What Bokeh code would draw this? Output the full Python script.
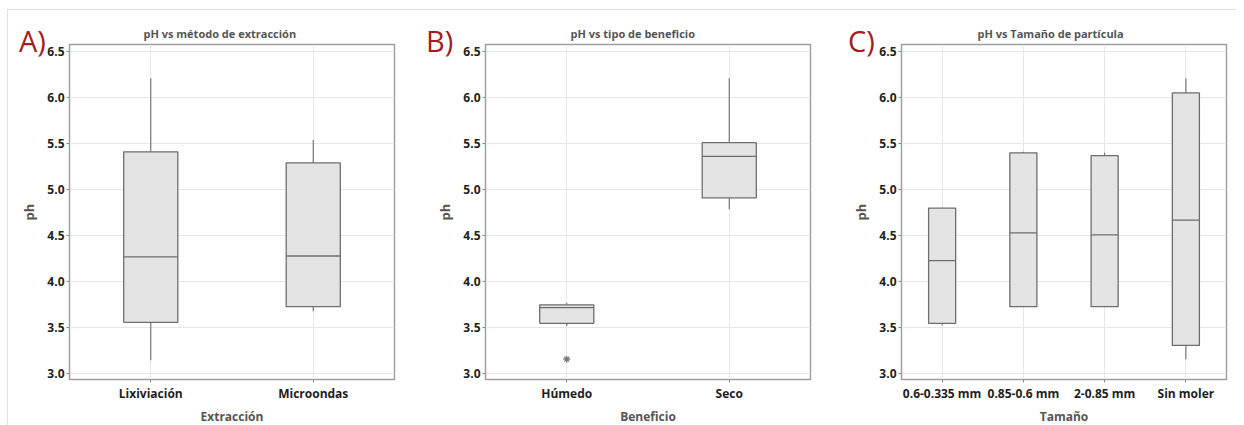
from bokeh.plotting import figure
from bokeh.layouts import row
from bokeh.models import Div, Title, FixedTicker, Range1d, CustomJSTickFormatter
from bokeh.transform import dodge
from bokeh.embed import file_html
from bokeh.resources import INLINE

# ---- data ----
A_cats = ["Lixiviación", "Microondas"]
A_low = [3.15, 3.68]
A_q1 = [3.56, 3.73]
A_med = [4.27, 4.28]
A_q3 = [5.41, 5.29]
A_high = [6.21, 5.54]

B_cats = ["Húmedo", "Seco"]
B_low = [3.52, 4.79]
B_q1 = [3.55, 4.91]
B_med = [3.72, 5.36]
B_q3 = [3.75, 5.51]
B_high = [3.77, 6.21]
B_out_cat = ["Húmedo"]
B_out_val = [3.16]

C_cats = ["0.6-0.335 mm", "0.85-0.6 mm", "2-0.85 mm", "Sin moler"]
C_low = [3.53, 3.73, 3.73, 3.16]
C_q1 = [3.55, 3.73, 3.73, 3.31]
C_med = [4.23, 4.53, 4.51, 4.67]
C_q3 = [4.80, 5.40, 5.37, 6.05]
C_high = [4.80, 5.41, 5.40, 6.21]

y_ticks = [3.0, 3.5, 4.0, 4.5, 5.0, 5.5, 6.0, 6.5]

FONT = "Open Sans"
BOX_FILL = "#e4e4e4"
BOX_LINE = "#6e6e6e"


def panel(title, title_off, xlabel, cats, low, q1, med, q3, high,
          left, right, out_cat=None, out_val=None):
    top, bottom = 34, 38
    y0, y1 = 2.94, 6.575
    p = figure(x_range=cats, y_range=Range1d(y0, y1),
               frame_width=325, frame_height=335,
               min_border_left=left, min_border_right=right,
               min_border_top=top, min_border_bottom=bottom,
               output_backend="svg", toolbar_location=None,
               background_fill_color="white", border_fill_color=None)
    p.title = Title(text=title, align="left", offset=title_off,
                    text_font=FONT, text_font_size="11px", text_font_style="bold",
                    text_color="#555555", standoff=8)
    p.outline_line_color = "#a0a0a0"
    p.outline_line_width = 1.5
    for ax in (p.xaxis[0], p.yaxis[0]):
        ax.axis_line_color = None
        ax.major_tick_line_color = "#888888"
        ax.major_tick_out = 3
        ax.major_tick_in = 0
        ax.minor_tick_line_color = None
        ax.major_label_standoff = 2
        ax.major_label_text_font = FONT
        ax.major_label_text_font_size = "12px"
        ax.major_label_text_color = "#1e1e1e"
        ax.major_label_text_font_style = "bold"
        ax.axis_label_text_font = FONT
        ax.axis_label_text_font_style = "bold"
        ax.axis_label_text_color = "#555555"
    p.xaxis.axis_label_text_font_size = "12px"
    p.yaxis.axis_label_text_font_size = "13px"
    p.yaxis.ticker = FixedTicker(ticks=y_ticks)
    p.yaxis.formatter = CustomJSTickFormatter(code="return tick.toFixed(1)")
    p.xaxis.axis_label = xlabel
    p.yaxis.axis_label = "ph"
    p.xaxis.axis_label_standoff = 3
    p.yaxis.axis_label_standoff = 6
    p.grid.grid_line_color = "#e6e6e6"
    p.grid.grid_line_width = 1

    src = dict(cat=cats, low=low, q1=q1, med=med, q3=q3, high=high)
    w = 0.333
    p.segment(x0="cat", x1="cat", y0="low", y1="q1", source=src, line_color="#777777", line_width=1.2)
    p.segment(x0="cat", x1="cat", y0="q3", y1="high", source=src, line_color="#777777", line_width=1.2)
    p.vbar(x="cat", width=w, bottom="q1", top="q3", source=src,
           fill_color=BOX_FILL, line_color=BOX_LINE, line_width=1.3)
    p.segment(x0=dodge("cat", -w / 2, range=p.x_range), x1=dodge("cat", w / 2, range=p.x_range),
              y0="med", y1="med", source=src, line_color=BOX_LINE, line_width=1.3)
    if out_cat:
        p.scatter(x=out_cat, y=out_val, marker="asterisk", size=7, line_color="#777777", line_width=1.2)
    return p


def letter(text, left, top):
    return Div(text=text, width=40, height=40,
               styles={"position": "absolute", "left": f"{left}px", "top": f"{top}px",
                       "font-family": FONT, "font-size": "29px", "line-height": "1",
                       "color": "#a51d23", "z-index": "5", "white-space": "nowrap"})


pA = panel("pH vs método de extracción", 74, "Extracción",
           A_cats, A_low, A_q1, A_med, A_q3, A_high, 61, 23)
pB = panel("pH vs tipo de beneficio", 85, "Beneficio",
           B_cats, B_low, B_q1, B_med, B_q3, B_high, 68, 16, B_out_cat, B_out_val)
pC = panel("pH vs Tamaño de partícula", 76, "Tamaño",
           C_cats, C_low, C_q1, C_med, C_q3, C_high, 75, 10)

layout = row(pA, pB, pC, letter("A)", 6, 11), letter("B)", 413, 11), letter("C)", 835, 11),
             styles={"border-top": "1px solid #e0e0e0",
                     "border-left": "1px solid #e0e0e0",
                     "margin-left": "7px", "margin-top": "9px",
                     "position": "relative"})
open("out.html", "w").write(file_html(layout, INLINE))
